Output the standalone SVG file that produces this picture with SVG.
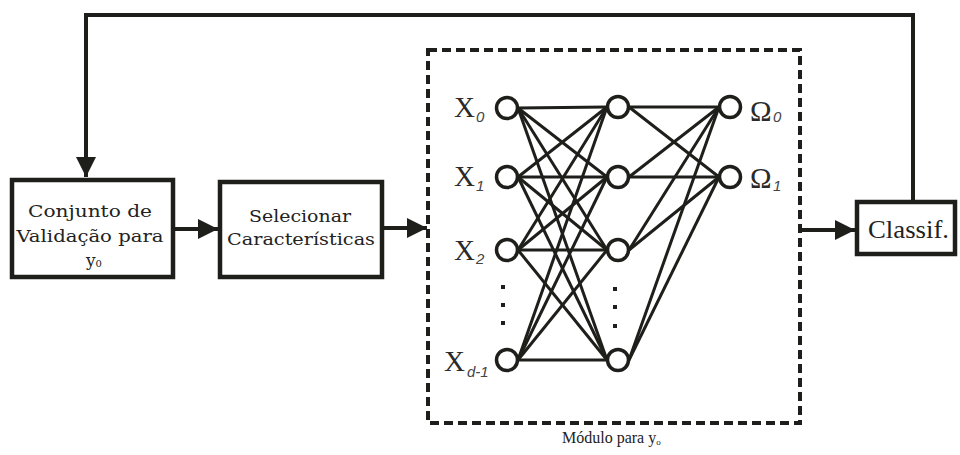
<svg xmlns="http://www.w3.org/2000/svg" width="960" height="455" viewBox="0 0 960 455">
  <defs>
    <style>
      .box { fill: #fff; stroke: #1e1e1a; stroke-width: 4.5; }
      .wire { fill: none; stroke: #1e1e1a; stroke-width: 4; }
      .link { stroke: #1e1e1a; stroke-width: 3; }
      .neuron { fill: #fff; stroke: #1e1e1a; stroke-width: 3.5; }
      .dash { fill: none; stroke: #1e1e1a; stroke-width: 4; stroke-dasharray: 9 5; }
      .lbl { font-family: "DejaVu Serif", "Liberation Serif", serif; fill: #222; }
      .sym { font-family: "Liberation Serif", "DejaVu Serif", serif; font-size: 29px; fill: #2a2a2a; }
      .sub { font-family: "Liberation Sans", "DejaVu Sans", sans-serif; font-style: italic; font-size: 15px; fill: #444; }
      .dot { fill: #1e1e1a; }
    </style>
    <marker id="head" viewBox="0 0 10 10" refX="10" refY="5" markerWidth="5" markerHeight="5.2" markerUnits="strokeWidth" orient="auto">
      <path d="M0,0 L10,5 L0,10 Z" fill="#1e1e1a"/>
    </marker>
  </defs>

  <!-- connectors between blocks -->
  <g id="connectors">
    <path class="wire" d="M913,200 V15 H86 V177" marker-end="url(#head)"/>
    <line class="wire" x1="173" y1="229" x2="218" y2="229" marker-end="url(#head)"/>
    <line class="wire" x1="382" y1="228" x2="427" y2="228" marker-end="url(#head)"/>
    <line class="wire" x1="801" y1="230" x2="855" y2="230" marker-end="url(#head)"/>
  </g>

  <!-- validation set block -->
  <g id="validacao">
    <rect class="box" x="12" y="180" width="161" height="97"/>
    <text class="lbl" font-size="17" x="90" y="217" text-anchor="middle" textLength="124" lengthAdjust="spacingAndGlyphs">Conjunto de</text>
    <text class="lbl" font-size="17" x="90" y="242" text-anchor="middle" textLength="147" lengthAdjust="spacingAndGlyphs">Validação para</text>
    <text class="lbl" font-size="17" x="86" y="266">y<tspan font-size="10" dy="1">0</tspan></text>
  </g>

  <!-- feature selection block -->
  <g id="selecionar">
    <rect class="box" x="220" y="182" width="162" height="95"/>
    <text class="lbl" font-size="17" x="300" y="222" text-anchor="middle" textLength="102" lengthAdjust="spacingAndGlyphs">Selecionar</text>
    <text class="lbl" font-size="17" x="301" y="245" text-anchor="middle" textLength="148" lengthAdjust="spacingAndGlyphs">Características</text>
  </g>

  <!-- module for y0: dashed frame with the network -->
  <g id="modulo">
    <rect class="dash" x="428" y="50" width="372" height="373"/>
    <text font-family="Liberation Serif, serif" font-size="16" fill="#222" x="562" y="443">Módulo para y<tspan font-size="9" dy="2">o</tspan></text>

    <g id="links">
      <!-- input to hidden -->
      <line class="link" x1="518" y1="108" x2="607" y2="107"/>
      <line class="link" x1="518" y1="108" x2="607" y2="177"/>
      <line class="link" x1="518" y1="108" x2="607" y2="250"/>
      <line class="link" x1="518" y1="108" x2="607" y2="360"/>
      <line class="link" x1="518" y1="177" x2="607" y2="107"/>
      <line class="link" x1="518" y1="177" x2="607" y2="177"/>
      <line class="link" x1="518" y1="177" x2="607" y2="250"/>
      <line class="link" x1="518" y1="177" x2="607" y2="360"/>
      <line class="link" x1="518" y1="250" x2="607" y2="107"/>
      <line class="link" x1="518" y1="250" x2="607" y2="177"/>
      <line class="link" x1="518" y1="250" x2="607" y2="250"/>
      <line class="link" x1="518" y1="250" x2="607" y2="360"/>
      <line class="link" x1="518" y1="360" x2="607" y2="107"/>
      <line class="link" x1="518" y1="360" x2="607" y2="177"/>
      <line class="link" x1="518" y1="360" x2="607" y2="250"/>
      <line class="link" x1="518" y1="360" x2="607" y2="360"/>
      <!-- hidden to output -->
      <line class="link" x1="629" y1="107" x2="719" y2="107"/>
      <line class="link" x1="629" y1="107" x2="719" y2="177"/>
      <line class="link" x1="629" y1="177" x2="719" y2="107"/>
      <line class="link" x1="629" y1="177" x2="719" y2="177"/>
      <line class="link" x1="629" y1="250" x2="719" y2="107"/>
      <line class="link" x1="629" y1="250" x2="719" y2="177"/>
      <line class="link" x1="629" y1="360" x2="719" y2="107"/>
      <line class="link" x1="629" y1="360" x2="719" y2="177"/>
    </g>

    <g id="entrada">
      <circle class="neuron" cx="507" cy="108" r="10.5"/>
      <circle class="neuron" cx="507" cy="177" r="10.5"/>
      <circle class="neuron" cx="507" cy="250" r="10.5"/>
      <circle class="neuron" cx="507" cy="360" r="10.5"/>
      <rect class="dot" x="501" y="285" width="4" height="4"/>
      <rect class="dot" x="501" y="303" width="4" height="4"/>
      <rect class="dot" x="501" y="321" width="4" height="4"/>
      <text class="sym" x="454" y="117">X</text><text class="sub" x="476" y="122">0</text>
      <text class="sym" x="454" y="186">X</text><text class="sub" x="476" y="191">1</text>
      <text class="sym" x="454" y="260">X</text><text class="sub" x="476" y="264">2</text>
      <text class="sym" x="444" y="371">X</text><text class="sub" x="467" y="377">d-1</text>
    </g>

    <g id="oculta">
      <circle class="neuron" cx="618" cy="107" r="10.5"/>
      <circle class="neuron" cx="618" cy="177" r="10.5"/>
      <circle class="neuron" cx="618" cy="250" r="10.5"/>
      <circle class="neuron" cx="618" cy="360" r="10.5"/>
      <rect class="dot" x="613" y="287" width="4" height="4"/>
      <rect class="dot" x="613" y="305" width="4" height="4"/>
      <rect class="dot" x="613" y="324" width="4" height="4"/>
    </g>

    <g id="saida">
      <circle class="neuron" cx="730" cy="107" r="10.5"/>
      <circle class="neuron" cx="730" cy="177" r="10.5"/>
      <text class="sym" x="750" y="121">Ω</text><text class="sub" x="773" y="122">0</text>
      <text class="sym" x="750" y="188">Ω</text><text class="sub" x="773" y="191">1</text>
    </g>
  </g>

  <!-- classifier block -->
  <g id="classif">
    <rect class="box" x="857" y="202" width="98" height="52"/>
    <text font-family="Liberation Serif, serif" font-size="26" fill="#222" x="868" y="238" textLength="81" lengthAdjust="spacingAndGlyphs">Classif.</text>
  </g>
</svg>
